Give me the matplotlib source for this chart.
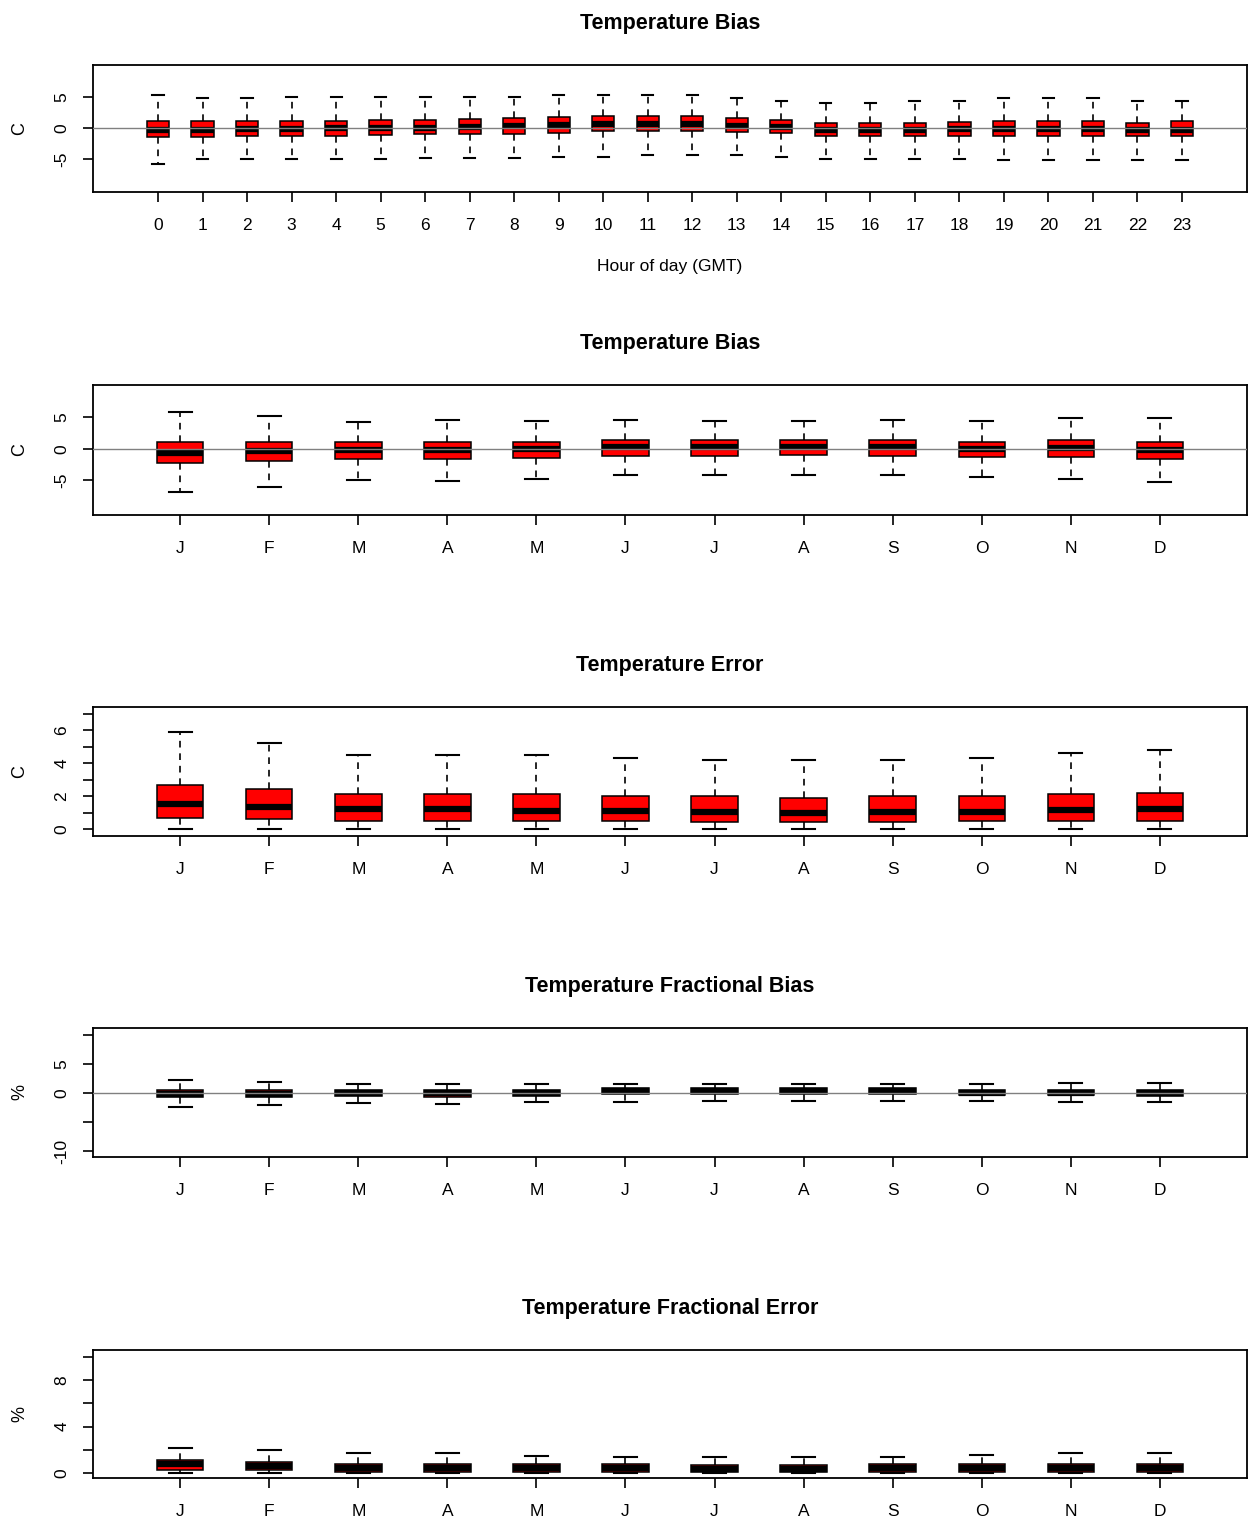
import numpy as np
import matplotlib
matplotlib.use("Agg")
import matplotlib.pyplot as plt

plt.rcParams['font.family'] = ['Liberation Sans', 'DejaVu Sans']

hours = [str(h) for h in range(24)]
months = ['J', 'F', 'M', 'A', 'M', 'J', 'J', 'A', 'S', 'O', 'N', 'D']

# Temperature bias by hour (C)
hb_hi = [5.3, 4.8, 4.8, 5.0, 5.0, 5.0, 5.0, 5.0, 5.0, 5.3, 5.3, 5.3,
         5.3, 4.8, 4.4, 4.1, 4.1, 4.4, 4.4, 4.8, 4.8, 4.8, 4.4, 4.4]
hb_q3 = [1.1, 1.1, 1.1, 1.1, 1.1, 1.4, 1.4, 1.5, 1.6, 1.8, 2.0, 2.0,
         1.9, 1.6, 1.3, 0.8, 0.8, 0.8, 1.0, 1.1, 1.1, 1.1, 0.9, 1.1]
hb_med = [-0.3, -0.3, -0.1, -0.1, 0.0, 0.1, 0.1, 0.2, 0.3, 0.5, 0.7, 0.7,
          0.6, 0.4, 0.2, -0.3, -0.3, -0.3, -0.2, -0.2, -0.2, -0.2, -0.3, -0.3]
hb_q1 = [-1.5, -1.4, -1.2, -1.2, -1.2, -1.1, -1.0, -1.0, -0.9, -0.7, -0.5, -0.5,
         -0.5, -0.6, -0.8, -1.3, -1.3, -1.3, -1.3, -1.3, -1.3, -1.3, -1.3, -1.3]
hb_lo = [-5.8, -5.0, -5.0, -5.0, -5.0, -5.0, -4.8, -4.8, -4.8, -4.6, -4.6, -4.4,
         -4.4, -4.4, -4.6, -4.9, -4.9, -4.9, -4.9, -5.2, -5.2, -5.2, -5.2, -5.2]

# Temperature bias by month (C)
mb_hi = [5.9, 5.2, 4.3, 4.6, 4.4, 4.6, 4.4, 4.4, 4.6, 4.4, 4.9, 4.9]
mb_q3 = [1.0, 1.0, 1.0, 1.0, 1.0, 1.4, 1.4, 1.4, 1.4, 1.1, 1.4, 1.1]
mb_med = [-0.6, -0.3, -0.2, -0.2, -0.1, 0.2, 0.2, 0.2, 0.2, 0.0, 0.1, -0.2]
mb_q1 = [-2.2, -1.9, -1.6, -1.6, -1.5, -1.1, -1.1, -1.0, -1.1, -1.3, -1.3, -1.6]
mb_lo = [-6.8, -6.0, -4.9, -5.1, -4.8, -4.2, -4.2, -4.2, -4.2, -4.4, -4.8, -5.3]

# Temperature error by month (C)
me_hi = [5.9, 5.2, 4.5, 4.5, 4.5, 4.3, 4.2, 4.2, 4.2, 4.3, 4.6, 4.8]
me_q3 = [2.7, 2.4, 2.1, 2.1, 2.1, 2.0, 2.0, 1.9, 2.0, 2.0, 2.1, 2.2]
me_med = [1.5, 1.35, 1.2, 1.2, 1.1, 1.1, 1.05, 1.0, 1.05, 1.05, 1.15, 1.2]
me_q1 = [0.67, 0.6, 0.5, 0.5, 0.5, 0.5, 0.45, 0.45, 0.45, 0.5, 0.5, 0.5]
me_lo = [0.0] * 12

# Temperature fractional bias by month (%)
fb_hi = [2.2, 1.9, 1.6, 1.6, 1.6, 1.6, 1.6, 1.6, 1.6, 1.5, 1.8, 1.8]
fb_q3 = [0.5, 0.5, 0.5, 0.5, 0.5, 0.9, 0.9, 0.9, 0.9, 0.6, 0.6, 0.5]
fb_med = [-0.1, -0.1, 0.0, 0.0, 0.0, 0.3, 0.3, 0.3, 0.3, 0.1, 0.1, 0.0]
fb_q1 = [-0.7, -0.6, -0.5, -0.6, -0.5, -0.2, -0.2, -0.2, -0.2, -0.4, -0.4, -0.5]
fb_lo = [-2.4, -2.0, -1.7, -1.8, -1.6, -1.5, -1.4, -1.4, -1.4, -1.4, -1.6, -1.6]

# Temperature fractional error by month (%)
fe_hi = [2.15, 2.0, 1.7, 1.7, 1.5, 1.4, 1.4, 1.4, 1.4, 1.55, 1.7, 1.7]
fe_q3 = [1.1, 0.95, 0.8, 0.8, 0.75, 0.75, 0.7, 0.65, 0.8, 0.8, 0.8, 0.8]
fe_med = [0.75, 0.6, 0.45, 0.45, 0.4, 0.4, 0.35, 0.35, 0.4, 0.4, 0.45, 0.45]
fe_q1 = [0.26, 0.25, 0.1, 0.1, 0.1, 0.1, 0.1, 0.1, 0.05, 0.05, 0.05, 0.05]
fe_lo = [0.0] * 12


def stats(lo, q1, med, q3, hi):
    return [dict(whislo=a, q1=b, med=c, q3=d, whishi=e, fliers=[])
            for a, b, c, d, e in zip(lo, q1, med, q3, hi)]


W, H = 1248, 1520
fig = plt.figure(figsize=(W / 100, H / 100), dpi=100)

# panel: (top px, bottom px, title, ylab, stats, labels, ylim, yticks, yticklabels, zero line)
panels = [
    (65, 192, 'Temperature Bias', 'C', stats(hb_lo, hb_q1, hb_med, hb_q3, hb_hi), hours,
     (-10.3, 10.2), [-5, 0, 5], ['-5', '0', '5'], True),
    (385, 515, 'Temperature Bias', 'C', stats(mb_lo, mb_q1, mb_med, mb_q3, mb_hi), months,
     (-10.5, 10.1), [-5, 0, 5], ['-5', '0', '5'], True),
    (707, 836, 'Temperature Error', 'C', stats(me_lo, me_q1, me_med, me_q3, me_hi), months,
     (-0.42, 7.4), list(range(8)), ['0', '', '2', '', '4', '', '6', ''], False),
    (1028, 1157, 'Temperature Fractional Bias', '%', stats(fb_lo, fb_q1, fb_med, fb_q3, fb_hi), months,
     (-11.0, 11.2), [-10, -5, 0, 5, 10], ['-10', '', '0', '5', ''], True),
    (1350, 1478, 'Temperature Fractional Error', '%', stats(fe_lo, fe_q1, fe_med, fe_q3, fe_hi), months,
     (-0.43, 10.6), [0, 2, 4, 6, 8, 10], ['0', '', '4', '', '8', ''], False),
]

left, right = 93, 1247
for i, (top, bot, title, ylab, st, labels, ylim, yt, ytl, zline) in enumerate(panels):
    ax = fig.add_axes([left / W, 1 - bot / H, (right - left) / W, (bot - top) / H])
    n = len(st)
    pos = np.arange(1, n + 1)
    bw = 0.5 if n == 24 else 0.52
    ax.bxp(st, positions=pos, widths=bw, capwidths=bw / 2, patch_artist=True,
           showfliers=False,
           boxprops=dict(facecolor='#ff0000', edgecolor='black', linewidth=1.1),
           medianprops=dict(color='black', linewidth=4.5, solid_capstyle='butt'),
           whiskerprops=dict(color='black', linewidth=1.2, linestyle=(0, (4, 3.5))),
           capprops=dict(color='black', linewidth=1.5))
    if zline:
        ax.axhline(0, color='#808080', linewidth=1.0, zorder=5)
    ax.set_xlim(0.5 - 0.04 * n, n + 0.5 + 0.04 * n)
    ax.set_ylim(*ylim)
    ax.set_xticks(pos)
    ax.set_xticklabels(labels, fontsize=12.5)
    ax.set_yticks(yt)
    ax.set_yticklabels(ytl, fontsize=12.5, rotation=90, va='center')
    ax.tick_params(axis='both', direction='out', length=7, width=1.2, colors='black')
    ax.tick_params(axis='x', pad=12)
    ax.tick_params(axis='y', pad=10)
    for s in ax.spines.values():
        s.set_linewidth(1.3)
    ax.set_ylabel(ylab, fontsize=13, rotation=90, va='center')
    ax.yaxis.set_label_coords(-(left - 20) / (right - left), 0.5)
    ax.annotate(title, xy=(0.5, 1), xycoords='axes fraction', xytext=(0, 30),
                textcoords='offset points', ha='center', va='center',
                fontsize=15.5, fontweight='bold')
    if i == 0:
        ax.set_xlabel('Hour of day (GMT)', fontsize=12.5, va='center')
        ax.xaxis.set_label_coords(0.5, -(266 - bot) / (bot - top))

fig.savefig('out.png', dpi=100)
